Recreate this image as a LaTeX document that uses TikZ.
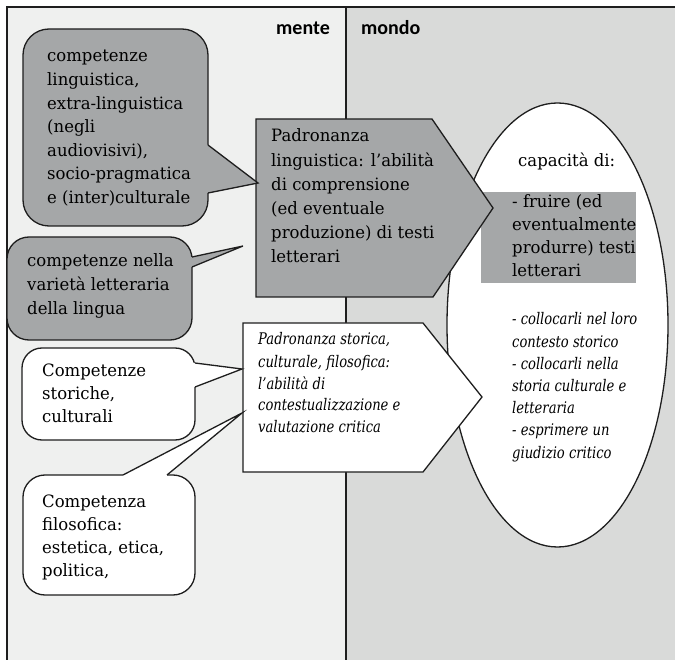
\documentclass[tikz,border=0pt]{standalone}
\usepackage{fontspec}
\setmainfont{DejaVu Serif}[FakeStretch=0.97]
\newfontfamily\itf[FakeStretch=0.82]{DejaVu Serif}
\newfontfamily\hdf{Carlito}
\newcommand\txtlines[2][23.3pt]{{\baselineskip=#1\relax
  \setbox\strutbox\hbox{\vrule height .7\baselineskip depth .3\baselineskip width 0pt}%
  \begin{tabular}[t]{@{}l@{}}#2\end{tabular}}}
\definecolor{leftbg}{HTML}{EFF0EF}
\definecolor{rightbg}{HTML}{D9DAD9}
\definecolor{dkgray}{HTML}{A5A7A8}
\definecolor{linec}{HTML}{1E1E1E}
\tikzset{
  outl/.style={draw=linec, line width=1.3pt, line join=miter},
  dkshape/.style={outl, fill=dkgray},
  whshape/.style={outl, fill=white},
  txt/.style={inner sep=0pt, anchor=base west, font=\fontsize{17}{20}\selectfont},
  ittxt/.style={inner sep=0pt, anchor=base west, font=\itf\itshape\fontsize{16}{19}\selectfont},
  hdtxt/.style={inner sep=0pt, anchor=base west, font=\hdf\bfseries\fontsize{20}{24}\selectfont}
}
\begin{document}
\begin{tikzpicture}[x=1pt,y=-1pt]
\useasboundingbox (0,0) rectangle (675,660);
% background panels
\fill[white] (0,0) rectangle (675,660);
\fill[leftbg] (7,7) rectangle (346,660);
\fill[rightbg] (346,7) rectangle (675,660);
\draw[outl] (7,660) -- (7,7) -- (675,7);
\draw[outl] (346,7) -- (346,660);
\node[hdtxt] (mente) at (276,35) {mente};
\node[hdtxt] (mondo) at (361,35) {mondo};
% ellipse
\draw[whshape] (557.5,325) ellipse [x radius=110.5pt, y radius=222pt];
\fill[dkgray] (481,192) rectangle (636,283);
% pentagons
\draw[dkshape] (256,119) -- (432,119) -- (493,208) -- (433,297) -- (256,297) -- cycle;
\draw[whshape] (243,323) -- (423,323) -- (482,397) -- (423,472) -- (243,472) -- cycle;
% bubble 1
\draw[dkshape, rounded corners=26pt] (23,29) rectangle (208,226);
\fill[dkgray] (204,145) -- (208,145) -- (258,183) -- (208,193) -- (204,193) -- cycle;
\draw[outl] (208,145) -- (258,183) -- (208,193);
% bubble 2
\draw[dkshape, rounded corners=22pt] (7,237) rectangle (192,340);
\fill[dkgray] (188,257) -- (192,257) -- (243,246) -- (192,267) -- (188,267) -- cycle;
\draw[outl] (192,257) -- (243,246) -- (192,267);
% bubble 3
\draw[whshape, rounded corners=20pt] (22,348) rectangle (195,440);
\fill[white] (191,363) -- (195,363) -- (242,369) -- (195,387) -- (191,387) -- cycle;
\draw[outl] (195,363) -- (242,369) -- (195,387);
% bubble 4
\draw[whshape, rounded corners=22pt] (23,475) rectangle (195,595);
\fill[white] (123,479) -- (123,475) -- (242,413) -- (167,475) -- (167,479) -- cycle;
\draw[outl] (123,475) -- (242,413) -- (167,475);
% texts
\node[txt] (b1) at (47,62) {\txtlines[23.6pt]{competenze\\linguistica,\\extra-linguistica\\(negli\\audiovisivi),\\socio-pragmatica\\e (inter)culturale}};
\node[txt] (b2) at (27,267) {\txtlines[24pt]{competenze nella\\varietà letteraria\\della lingua}};
\node[txt] (b3) at (42,377) {\txtlines[23pt]{Competenze\\storiche,\\culturali}};
\node[txt] (b4) at (42,507) {\txtlines[23.3pt]{Competenza\\filosofica:\\estetica, etica,\\politica,}};
\node[txt] (p1) at (271,142) {\txtlines[24.2pt]{Padronanza\\linguistica: l’abilità\\di comprensione\\(ed eventuale\\produzione) di testi\\letterari}};
\node[ittxt] (p2) at (258,345) {\txtlines[22pt]{Padronanza storica,\\culturale, filosofica:\\l’abilità di\\contestualizzazione e\\valutazione critica}};
\node[txt] (cap) at (518,167) {capacità di:};
\node[txt] (fr) at (512,208) {\txtlines[23pt]{- fruire (ed\\eventualmente\\produrre) testi\\letterari}};
\node[ittxt] (co) at (512,325) {\txtlines[22.2pt]{- collocarli nel loro\\contesto storico\\- collocarli nella\\storia culturale e\\letteraria\\- esprimere un\\giudizio critico}};
\end{tikzpicture}
\end{document}
